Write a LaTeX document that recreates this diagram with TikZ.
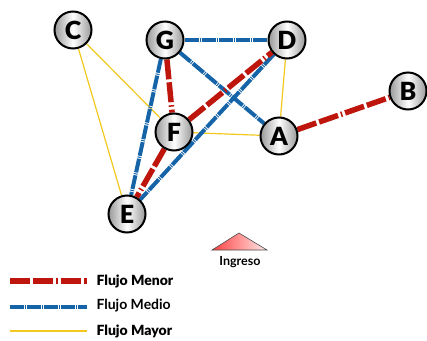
\documentclass[tikz,border=0pt]{standalone}
\usepackage{fontspec}
\setmainfont{Lato}
\newfontfamily\gruesa{Lato Black}
\usepackage{tikz}
\usetikzlibrary{backgrounds}
\definecolor{flujored}{RGB}{190,22,12}
\definecolor{flujoblue}{RGB}{22,100,168}
\definecolor{flujoyellow}{RGB}{242,200,30}
\tikzset{
    nodo/.style={circle, draw=black, line width=2pt, minimum size=37pt, inner sep=0pt,
                 left color=gray!80, right color=gray!80, middle color=white,
                 font=\gruesa\fontsize{25}{25}\selectfont},
    menor/.style={draw=flujored, line width=5.5pt,
                  dash pattern=on 20pt off 3pt on 20pt off 3pt on 1.5pt off 3pt},
    medio/.style={draw=flujoblue, line width=4pt,
                  dash pattern=on 14pt off 1pt on 1pt off 1pt},
    mayor/.style={draw=flujoyellow, line width=1.2pt},
    leyenda/.style={anchor=west, font=\fontsize{14}{14}\selectfont},
}
\begin{document}
\begin{tikzpicture}[x=1pt, y=-1pt]
    \useasboundingbox (0,0) rectangle (427,340);
    % nodos
    \node[nodo] (C) at (73,30)   {C};
    \node[nodo] (G) at (165,40)  {G};
    \node[nodo] (D) at (287,40)  {D};
    \node[nodo] (B) at (408,91)  {B};
    \node[nodo] (A) at (279,136) {A};
    \node[nodo] (F) at (174,132) {F};
    \node[nodo] (E) at (127,214) {E};

    % conexiones
    \begin{scope}[on background layer]
        \draw[mayor] (C) -- (F);
        \draw[mayor] (C) -- (E);
        \draw[mayor] (D) -- (A);
        \draw[mayor] (F) -- (A);
        \draw[medio] (G) -- (D);
        \draw[medio] (G) -- (A);
        \draw[medio] (G) -- (E);
        \draw[medio] (D) -- (E);
        \draw[menor] (G) -- (F);
        \draw[menor] (F) -- (D);
        \draw[menor] (F) -- (E);
        \draw[menor] (A) -- (B);
    \end{scope}

    % ingreso
    \coordinate (ing1) at (212,250);
    \coordinate (ing2) at (239,233);
    \coordinate (ing3) at (267,250);
    \draw[black!70, line width=0.6pt, left color=red!75, right color=red!8]
        (ing1) -- (ing2) -- (ing3) -- cycle;
    \node[font=\fontsize{12.5}{13}\selectfont\bfseries] (ingreso) at (240,262) {Ingreso};

    % leyenda
    \coordinate (l1a) at (10,281);  \coordinate (l1b) at (87,281);
    \coordinate (l2a) at (10,307);  \coordinate (l2b) at (87,307);
    \coordinate (l3a) at (10,331);  \coordinate (l3b) at (87,331);
    \draw[menor] (l1a) -- (l1b);
    \draw[medio] (l2a) -- (l2b);
    \draw[mayor] (l3a) -- (l3b);
    \node[leyenda, font=\gruesa\fontsize{14}{14}\selectfont] (ley1) at (93,281) {Flujo Menor};
    \node[leyenda, font=\fontsize{14}{14}\selectfont\bfseries] (ley2) at (93,306) {Flujo Medio};
    \node[leyenda, font=\gruesa\fontsize{14}{14}\selectfont] (ley3) at (93,331) {Flujo Mayor};
\end{tikzpicture}
\end{document}
